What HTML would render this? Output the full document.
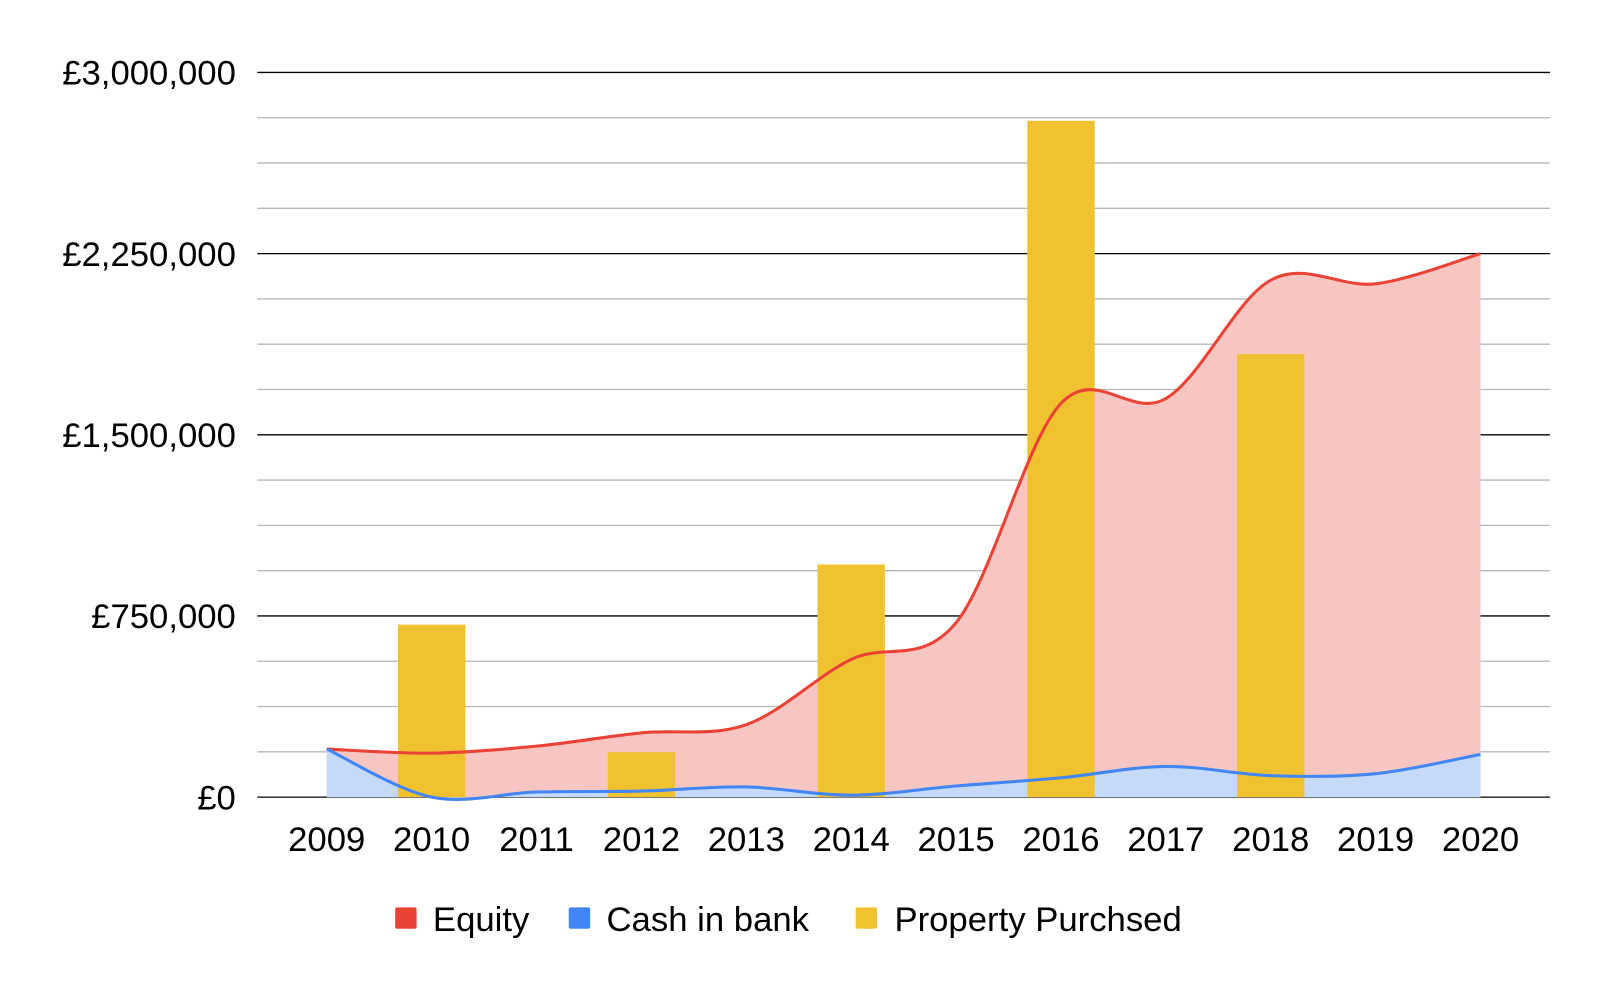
<!DOCTYPE html>
<html><head><meta charset="utf-8"><style>
body{margin:0;background:#fff;}
svg text{font-family:"Liberation Sans",Arial,sans-serif;fill:#000;}
</style></head><body>
<svg id="c" width="1600" height="990" viewBox="0 0 1567 970" preserveAspectRatio="none" xmlns="http://www.w3.org/2000/svg">
<g id="grid"></g>
<g id="yt"></g>
<g id="areas"></g>
<g id="bars"></g>
<g id="lines"></g>
<g id="xt"></g>
<g>
<g><rect x="387" y="889" width="21" height="21" rx="2" fill="#ea4335"/><text x="424" y="912" font-size="34">Equity</text></g>
<g><rect x="557" y="889" width="21" height="21" rx="2" fill="#4285f4"/><text x="594" y="912" font-size="34">Cash in bank</text></g>
<g><rect x="838" y="889" width="21" height="21" rx="2" fill="#f0c22f"/><text x="876" y="912" font-size="34">Property Purchsed</text></g>
</g>
</svg>
<script>
const years=["2009","2010","2011","2012","2013","2014","2015","2016","2017","2018","2019","2020"];
const equity=[199000,182000,211000,266000,300000,570000,722000,1630000,1650000,2140000,2125000,2250000];
const cash=[199000,0,21000,25000,42000,8000,46000,80000,127000,89000,97000,177000];
const property=[0,714000,0,186000,0,963000,0,2800000,0,1834000,0,0];
const yTicks=["£0","£750,000","£1,500,000","£2,250,000","£3,000,000"];
const yMax=3000000;
const NS="http://www.w3.org/2000/svg";
const y0=781,yTop=71,x0=320,dx=(1450-320)/11;
const Y=v=>y0-(v/yMax)*(y0-yTop);
const X=i=>x0+i*dx;
function mk(t,a,p){const e=document.createElementNS(NS,t);for(const k in a)e.setAttribute(k,a[k]);p.appendChild(e);return e;}
const grid=document.getElementById('grid');
for(let k=0;k<=16;k++){const v=k*yMax/16;const major=k%4===0;
const l=mk('line',{x1:252,x2:1518,y1:Y(v),y2:Y(v),stroke:major?'#000':'#b7b7b7','stroke-width':1.3},grid);

}
const yt=document.getElementById('yt');
yTicks.forEach((s,i)=>{const t=mk('text',{x:231,y:Y(i*yMax/4)+12,'font-size':34,'text-anchor':'end'},yt);t.textContent=s;

});
const xt=document.getElementById('xt');
years.forEach((s,i)=>{const t=mk('text',{x:X(i),y:834,'font-size':34,'text-anchor':'middle'},xt);t.textContent=s;

});
function curve(vals){const p=vals.map((v,i)=>[X(i),Y(v)]);let d='M'+p[0][0]+','+p[0][1];
for(let i=0;i<p.length-1;i++){const a=p[Math.max(i-1,0)],b=p[i],c=p[i+1],e=p[Math.min(i+2,p.length-1)];
const c1=[b[0]+(c[0]-a[0])/6,b[1]+(c[1]-a[1])/6],c2=[c[0]-(e[0]-b[0])/6,c[1]-(e[1]-b[1])/6];
d+=` C${c1[0]},${c1[1]} ${c2[0]},${c2[1]} ${c[0]},${c[1]}`;}return d;}
const areas=document.getElementById('areas'),lines=document.getElementById('lines'),bars=document.getElementById('bars');
const closeA=` L${X(11)},${y0} L${X(0)},${y0} Z`;
const ea=mk('path',{d:curve(equity)+closeA,fill:'#f8c6c2'},areas);


const ca=mk('path',{d:curve(cash)+closeA,fill:'#c5d9f8'},areas);


property.forEach((v,i)=>{if(!v)return;const b=mk('rect',{x:X(i)-33,y:Y(v),width:66,height:y0-Y(v),fill:'#f0c22f'},bars);

});
const el=mk('path',{d:curve(equity),fill:'none',stroke:'#ea4335','stroke-width':3},lines);


const cl=mk('path',{d:curve(cash),fill:'none',stroke:'#4285f4','stroke-width':3},lines);


</script>
</body></html>
